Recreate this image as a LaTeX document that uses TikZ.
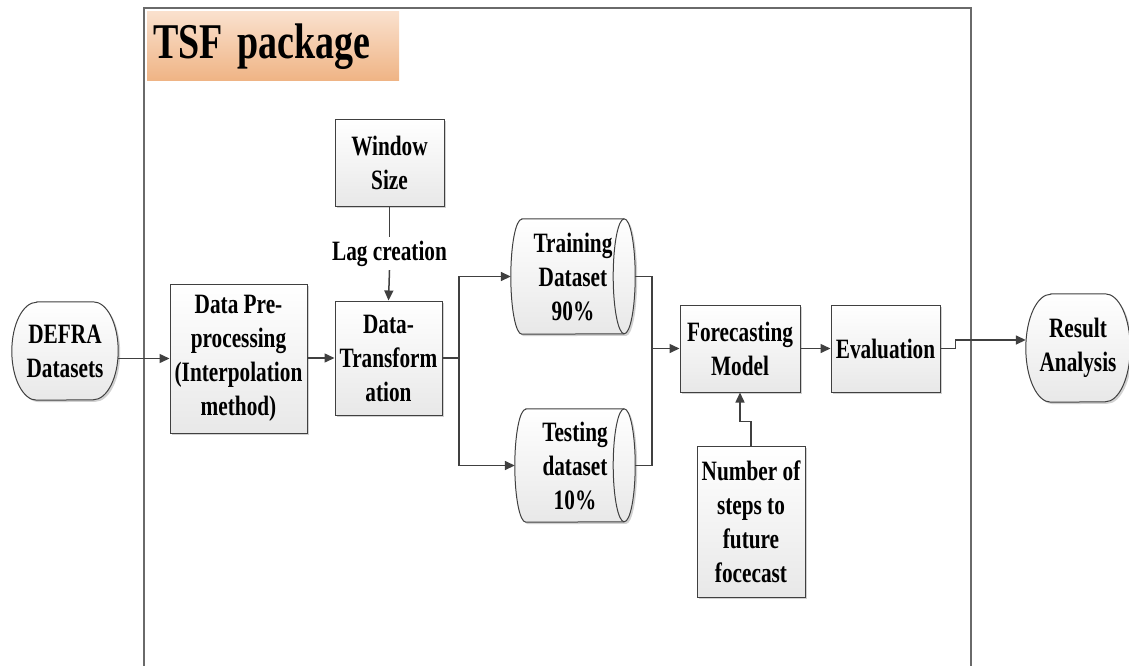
\documentclass[tikz,border=0pt]{standalone}
\usepackage{fontspec}
\setmainfont{Liberation Serif}[FakeStretch=0.76]
\usetikzlibrary{arrows.meta,shadows}
\definecolor{edge}{HTML}{404040}
\definecolor{framec}{HTML}{6A6A6A}
\definecolor{boxbot}{HTML}{E8E8E8}
\definecolor{titletop}{HTML}{FAE1CE}
\definecolor{titlebot}{HTML}{EFB485}
\pgfdeclarelayer{bg}
\pgfsetlayers{bg,main}
\begin{document}
\begin{tikzpicture}[x=1pt,y=-1pt,
  font=\bfseries\fontsize{28}{34}\selectfont,
  shade/.style={top color=white, bottom color=boxbot},
  shd/.style={drop shadow={shadow xshift=2pt,shadow yshift=-2pt,fill=black!30,opacity=0.6}},
  box/.style={draw=edge, line width=1pt, shade, shd, align=center, inner sep=0pt},
  plain/.style={align=center, inner sep=0pt},
  outline/.style={draw=edge, line width=1pt, shade, shd},
  link/.style={draw=edge, line width=1.5pt},
  arr/.style={link, -{Triangle[length=10pt,width=9pt]}}
]
\useasboundingbox (0,0) rectangle (1129,665);

% outer frame of the package
\draw[framec, line width=1.3pt] (144,666) -- (144,8) -- (971,8) -- (971,666);

% title banner
\node[anchor=north west, top color=titletop, bottom color=titlebot,
      minimum height=69pt, text width=240pt, inner xsep=6pt, inner ysep=0pt,
      align=left, text height=37pt, text depth=12pt,
      font=\bfseries\fontsize{50}{58}\selectfont] (title) at (147,11) {TSF\kern-2pt{} package};

% process blocks
\node[plain, minimum width=106pt, minimum height=98pt] (defra) at (65,351) {DEFRA\\Datasets};
\node[box, minimum width=137pt, minimum height=149pt] (pre) at (238.5,358.5) {Data Pre-\\processing\\(Interpolation\\method)};
\node[box, minimum width=107pt, minimum height=114pt] (dt) at (388.5,358) {Data-\\Transform\\ation};
\node[box, minimum width=109pt, minimum height=87pt] (win) at (389.5,162.5) {Window\\Size};
\node[inner sep=0pt, minimum height=33pt] (lag) at (389.5,253.5) {Lag creation};

% dataset cylinders (text nodes; outlines drawn behind them)
\node[plain, minimum width=124pt, minimum height=115pt] (trn) at (573,276.5) {Training\\Dataset\\90\%};
\node[plain, minimum width=120pt, minimum height=113pt] (tst) at (575,465.5) {Testing\\dataset\\10\%};

\node[box, minimum width=120pt, minimum height=87pt] (fc) at (740,348.5) {Forecasting\\Model};
\node[box, minimum width=109pt, minimum height=87pt] (ev) at (885.5,348.5) {Evaluation};
\node[plain, minimum width=104pt, minimum height=108pt] (res) at (1078,348) {Result\\Analysis};
\node[box, minimum width=108pt, minimum height=151pt] (steps) at (751,521.5) {Number of\\steps to\\future\\focecast};

\begin{pgfonlayer}{bg}
  % cylinders: half ellipse on the left, full ellipse on the right
  \foreach \c/\ry in {trn/57.5pt, tst/56.5pt}{
    \path[outline] ([xshift=11pt]\c.north west) -- ([xshift=-11pt]\c.north east)
      arc[start angle=90, end angle=-90, x radius=11pt, y radius=\ry]
      -- ([xshift=11pt]\c.south west)
      arc[start angle=270, end angle=90, x radius=11pt, y radius=\ry] -- cycle;
    \draw[edge, line width=1pt] ([xshift=-11pt]\c.north east)
      arc[start angle=90, end angle=270, x radius=11pt, y radius=\ry];
  }
  % terminals with elliptical ends
  \foreach \c/\ry in {defra/49pt, res/54pt}{
    \path[outline] ([xshift=25pt]\c.north west) -- ([xshift=-25pt]\c.north east)
      arc[start angle=90, end angle=-90, x radius=25pt, y radius=\ry]
      -- ([xshift=25pt]\c.south west)
      arc[start angle=270, end angle=90, x radius=25pt, y radius=\ry] -- cycle;
  }
\end{pgfonlayer}

% junction points
\coordinate (split) at (459,358);
\coordinate (merge) at (652,348.5);

% connectors
\draw[arr] (defra.east |- pre.west) -- (pre.west);
\draw[arr] (pre.east |- dt.west) -- (dt.west);
\draw[link] (win.south) -- (lag.north);
\draw[arr] (lag.south) -- (dt.north);
\draw[link] (dt.east) -- (split);
\draw[arr] (split) |- (trn.west);
\draw[arr] (split) |- (tst.west);
\draw[link] (trn.east) -| (merge);
\draw[link] (tst.east) -| (merge);
\draw[arr] (merge) -- (fc.west);
\draw[arr] (fc.east) -- (ev.west);
\draw[arr] (ev.east) -- ++(15,0) |- ([yshift=8pt]res.west);
\draw[arr] (steps.north) -- ++(0,-24) -| (fc.south);
\end{tikzpicture}
\end{document}
